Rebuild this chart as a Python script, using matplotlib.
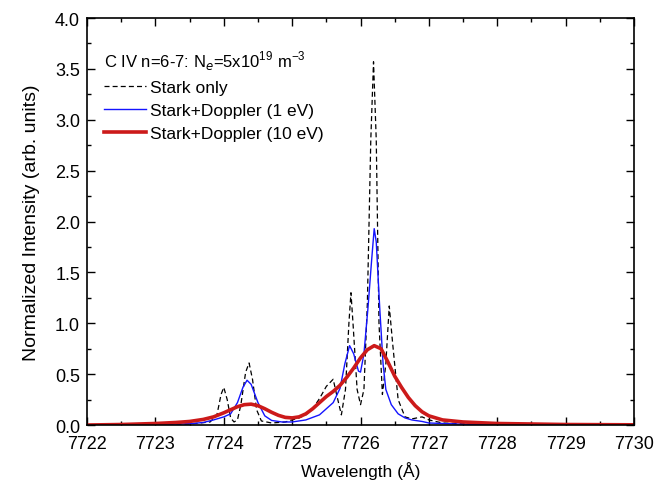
import matplotlib
matplotlib.use('Agg')
import matplotlib.pyplot as plt
from matplotlib.ticker import MultipleLocator
import numpy as np

plt.rcParams['font.family'] = ['Liberation Sans', 'DejaVu Sans']
plt.rcParams['mathtext.fontset'] = 'custom'
plt.rcParams['mathtext.rm'] = 'Liberation Sans'

# Stark only (dashed black)
stark_x = [7722.0, 7723.0, 7723.5, 7723.8, 7723.9, 7723.96, 7724.0, 7724.05, 7724.1,
           7724.15, 7724.2, 7724.25, 7724.32, 7724.37, 7724.42, 7724.48, 7724.55,
           7724.7, 7724.9, 7725.0, 7725.1, 7725.2, 7725.3, 7725.4, 7725.5, 7725.6,
           7725.65, 7725.72, 7725.78, 7725.83, 7725.86, 7725.89, 7725.95, 7726.0,
           7726.05, 7726.1, 7726.15, 7726.19, 7726.23, 7726.27, 7726.32, 7726.37,
           7726.42, 7726.47, 7726.55, 7726.65, 7726.75, 7726.9, 7727.0, 7727.2,
           7727.5, 7728.0, 7729.0, 7730.0]
stark_y = [0.0, 0.005, 0.01, 0.03, 0.10, 0.30, 0.37, 0.25, 0.07,
           0.03, 0.05, 0.20, 0.52, 0.61, 0.45, 0.15, 0.04,
           0.02, 0.03, 0.05, 0.07, 0.10, 0.16, 0.26, 0.38, 0.45,
           0.30, 0.10, 0.35, 1.00, 1.30, 1.00, 0.35, 0.20,
           0.35, 1.20, 2.80, 3.57, 2.80, 1.00, 0.30, 0.60,
           1.17, 0.80, 0.25, 0.08, 0.06, 0.08, 0.05, 0.02,
           0.012, 0.006, 0.003, 0.002]

# Stark + Doppler, 1 eV (thin blue)
dop1_x = [7722.0, 7723.0, 7723.5, 7723.7, 7723.85, 7724.0, 7724.1, 7724.2, 7724.28,
          7724.34, 7724.4, 7724.5, 7724.6, 7724.7, 7724.85, 7725.0, 7725.2, 7725.4,
          7725.5, 7725.6, 7725.7, 7725.77, 7725.84, 7725.9, 7725.97, 7726.0,
          7726.05, 7726.11, 7726.16, 7726.2, 7726.23, 7726.28, 7726.33, 7726.37,
          7726.45, 7726.55, 7726.65, 7726.75, 7726.9, 7727.0, 7727.5, 7728.0, 7730.0]
dop1_y = [0.0, 0.005, 0.012, 0.025, 0.05, 0.08, 0.11, 0.22, 0.37,
          0.44, 0.40, 0.22, 0.09, 0.045, 0.03, 0.03, 0.05, 0.10,
          0.16, 0.22, 0.36, 0.60, 0.78, 0.70, 0.53, 0.52,
          0.70, 1.16, 1.60, 1.93, 1.80, 1.16, 0.60, 0.35,
          0.20, 0.11, 0.07, 0.05, 0.035, 0.02, 0.008, 0.004, 0.001]

# Stark + Doppler, 10 eV (thick red)
dop10_x = [7722.0, 7722.5, 7723.0, 7723.3, 7723.5, 7723.7, 7723.85, 7724.0, 7724.1,
           7724.2, 7724.3, 7724.4, 7724.5, 7724.6, 7724.7, 7724.8, 7724.9, 7725.0,
           7725.1, 7725.2, 7725.3, 7725.4, 7725.5, 7725.6, 7725.7, 7725.8, 7725.9,
           7726.0, 7726.1, 7726.2, 7726.3, 7726.4, 7726.5, 7726.6, 7726.7, 7726.8,
           7726.9, 7727.0, 7727.2, 7727.5, 7728.0, 7729.0, 7730.0]
dop10_y = [0.0, 0.005, 0.015, 0.025, 0.035, 0.055, 0.08, 0.12, 0.15,
           0.18, 0.20, 0.205, 0.19, 0.16, 0.125, 0.095, 0.075, 0.07,
           0.08, 0.11, 0.16, 0.22, 0.28, 0.33, 0.39, 0.47, 0.56,
           0.66, 0.74, 0.78, 0.75, 0.62, 0.48, 0.37, 0.27, 0.19,
           0.13, 0.09, 0.05, 0.03, 0.015, 0.005, 0.002]

fig = plt.figure(figsize=(6.71, 4.85), dpi=100)
ax = fig.add_axes([0.1297, 0.1216, 0.8152, 0.8392])

ax.plot(stark_x, stark_y, color='black', lw=0.9, ls=(0, (4, 2.5)), label='Stark only')
ax.plot(dop1_x, dop1_y, color='#1414ff', lw=1.0, label='Stark+Doppler (1 eV)')
ax.plot(dop10_x, dop10_y, color='#cc1a1a', lw=2.6, label='Stark+Doppler (10 eV)')

ax.set_xlim(7722, 7730)
ax.set_ylim(0, 4.0)
ax.xaxis.set_major_locator(MultipleLocator(1))
ax.xaxis.set_minor_locator(MultipleLocator(0.5))
ax.yaxis.set_major_locator(MultipleLocator(0.5))
ax.yaxis.set_minor_locator(MultipleLocator(0.25))
ax.xaxis.set_major_formatter(plt.FuncFormatter(lambda v, p: f'{v:.0f}'))
ax.yaxis.set_major_formatter(plt.FuncFormatter(lambda v, p: f'{v:.1f}'))
ax.tick_params(which='both', direction='in', top=True, right=True, width=1)
ax.tick_params(which='major', length=6, labelsize=13)
ax.tick_params(which='minor', length=3)
ax.tick_params(axis='x', which='major', pad=7)
ax.tick_params(axis='y', which='major', pad=5)
for s in ax.spines.values():
    s.set_linewidth(1.2)

ax.set_xlabel('Wavelength (Å)', fontsize=12.5, labelpad=7)
ax.set_ylabel('Normalized Intensity (arb. units)', fontsize=14, labelpad=11)

leg = ax.legend(loc='upper left', bbox_to_anchor=(17 / 547, 0.925), frameon=False,
                fontsize=12.5, handlelength=2.4, handletextpad=0.25, labelspacing=0.45,
                borderpad=0, borderaxespad=0,
                title='C IV n=6-7: N$_e$=5x10$^{19}$ m$^{-3}$', title_fontsize=12,
                alignment='left')

fig.savefig('out.png', dpi=100)
